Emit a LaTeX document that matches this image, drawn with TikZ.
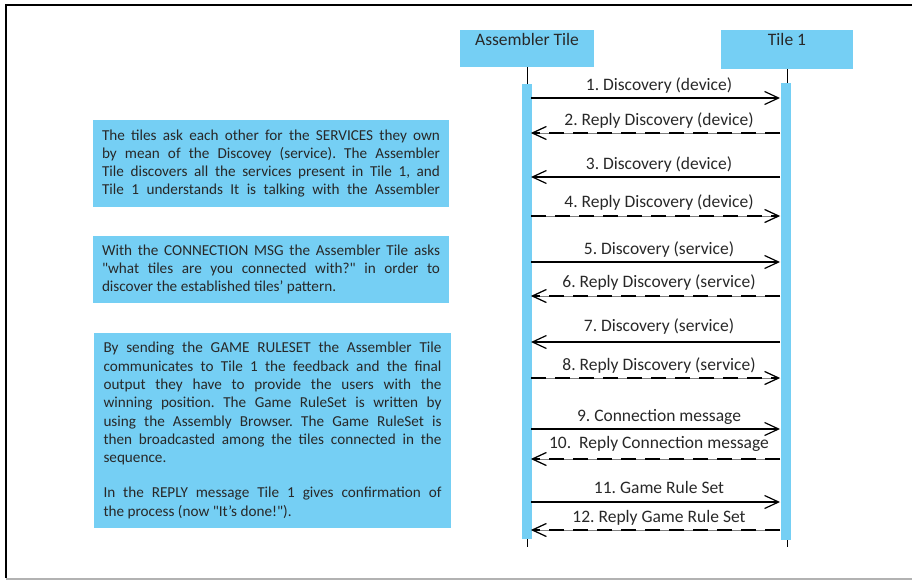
\documentclass[tikz,border=0pt]{standalone}
\usepackage{fontspec}
\setmainfont{Carlito}
\usetikzlibrary{arrows.meta}
\definecolor{tileblue}{RGB}{117,207,244}
\definecolor{txt}{RGB}{40,40,40}
\newlength\notew \setlength\notew{338pt}
\newcommand\jl[1]{\makebox[\notew][s]{#1}}
\newcommand\dq{\textquotedbl}
\frenchspacing
\begin{document}
\begin{tikzpicture}[x=1pt,y=-1pt,
 hdr/.style={fill=tileblue, inner xsep=0pt, inner ysep=4pt, text height=11pt, text depth=18pt, font=\fontsize{17.5}{20}\selectfont, text=txt},
 bar/.style={fill=tileblue, minimum width=10pt, inner sep=0pt},
 note/.style={fill=tileblue, inner xsep=9pt, align=left, font=\fontsize{15.2}{18.3}\selectfont, text=txt},
 lbl/.style={font=\fontsize{17.5}{19}\selectfont, text=txt, inner sep=0pt},
 msg/.style={line width=1.2pt, -{Straight Barb[length=14pt,width=13pt]}},
 reply/.style={msg, dash pattern=on 15pt off 9pt, preaction={draw, line width=0.5pt, gray, solid}},
]
\useasboundingbox (0,0) rectangle (912,581);
\draw[line width=1.5pt] (912,5) -- (6,5) -- (6,578);
\draw[line width=1.5pt, gray!60] (6,579) -- (912,579);

\node[hdr, minimum width=134pt, anchor=north] (asm) at (527,30) {Assembler Tile};
\node[hdr, minimum width=132pt, text depth=20pt, anchor=north] (tile) at (787,30) {Tile 1};

\coordinate (asmend) at (527,547);
\coordinate (tileend) at (787,547);
\draw[line width=1pt] (asm.south) -- (asmend);
\draw[line width=1pt] (tile.south) -- (tileend);
\node[bar, minimum height=455pt, anchor=north] (asmbar) at (527,84) {};
\node[bar, minimum height=457pt, anchor=north] (tilebar) at (786,83) {};

\foreach \n/\y/\ly/\st/\txt in {
 1/98/86/r/{1. Discovery (device)},
 2/133/121/lr/{2. Reply Discovery (device)},
 3/177/165/l/{3. Discovery (device)},
 4/216/203/rr/{4. Reply Discovery (device)},
 5/262/250/r/{5. Discovery (service)},
 6/296/283/lr/{6. Reply Discovery (service)},
 7/342/327/l/{7. Discovery (service)},
 8/378/366/rr/{8. Reply Discovery (service)},
 9/429/417/r/{9. Connection message},
 10/459/444/lr/{10.\ \ Reply Connection message},
 11/502/487/r/{11. Game Rule Set},
 12/530/518/lr/{12. Reply Game Rule Set}}{
  \coordinate (a\n) at (531,\y);
  \coordinate (b\n) at (780,\y);
  \node[lbl] (l\n) at (659,\ly) {\txt};
  \ifnum\pdfstrcmp{\st}{r}=0 \draw[msg] (a\n) -- (b\n); \fi
  \ifnum\pdfstrcmp{\st}{l}=0 \draw[msg] (b\n) -- (a\n); \fi
  \ifnum\pdfstrcmp{\st}{rr}=0 \draw[reply] (a\n) -- (b\n); \fi
  \ifnum\pdfstrcmp{\st}{lr}=0 \draw[reply] (b\n) -- (a\n); \fi
}

\node[note, minimum width=356pt, minimum height=87pt] (n1) at (271,163.5) {%
\jl{The tiles ask each other for the SERVICES they own}\\
\jl{by mean of the Discovey (service). The Assembler}\\
\jl{Tile discovers all the services present in Tile 1, and}\\
\jl{Tile 1 understands It is talking with the Assembler}};

\node[note, minimum width=356pt, minimum height=67pt] (n2) at (271,269.5) {%
\jl{With the CONNECTION MSG the Assembler Tile asks}\\
\jl{\dq what tiles are you connected with?\dq\ in order to}\\
discover the established tiles' pattern.};

\node[note, minimum width=357pt, minimum height=195pt] (n3) at (272.5,430.5) {%
\jl{By sending the GAME RULESET the Assembler Tile}\\
\jl{communicates to Tile 1 the feedback and the final}\\
\jl{output they have to provide the users with the}\\
\jl{winning position. The Game RuleSet is written by}\\
\jl{using the Assembly Browser. The Game RuleSet is}\\
\jl{then broadcasted among the tiles connected in the}\\
sequence.\\[17pt]
\jl{In the REPLY message Tile 1 gives confirmation of}\\
the process (now \dq It's done!\dq).};
\end{tikzpicture}
\end{document}
